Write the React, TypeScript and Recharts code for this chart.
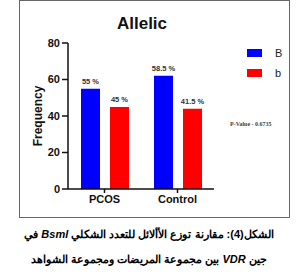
import { Bar, BarChart, LabelList, XAxis, YAxis } from "recharts";

const groups = ["PCOS", "Control"];
const bigB = [55, 62];
const smallB = [45, 44];
const bigBLabels = ["55 %", "58.5 %"];
const smallBLabels = ["45 %", "41.5 %"];
const yTicks = [0, 20, 40, 60, 80];
const pValue = "P-Value - 0.6735";

const data = groups.map((g, i) => ({ group: g, B: bigB[i], b: smallB[i] }));

const FONT = "'Liberation Sans', Arial, sans-serif";

function pctLabel(labels: string[]) {
  return (props: any) => {
    const { x, y, width, index } = props;
    return (
      <text
        x={Number(x) + Number(width) / 2}
        y={Number(y) - 5}
        textAnchor="middle"
        fontFamily={FONT}
        fontSize={7.5}
        fontWeight="bold"
        fill="#333"
      >
        {labels[index]}
      </text>
    );
  };
}

function LegendBox() {
  const items = [
    { name: "B", color: "#0000ff" },
    { name: "b", color: "#ff0000" },
  ];
  return (
    <svg width={50} height={40} style={{ position: "absolute", left: 247, top: 44 }}>
      {items.map((it, i) => (
        <g key={it.name}>
          <rect x={0} y={5 + i * 20} width={15} height={8} fill={it.color} />
          <text x={28} y={13 + i * 20} fontFamily={FONT} fontSize={11} fill="#222">
            {it.name}
          </text>
        </g>
      ))}
    </svg>
  );
}

export default function App() {
  return (
    <div style={{ position: "absolute", left: 0, top: 0, width: 300, height: 276, background: "#fff", fontFamily: FONT }}>
      <div
        style={{
          position: "absolute",
          left: 19,
          top: 0,
          width: 269,
          height: 216,
          border: "1px solid #666",
        }}
      />
      <div
        style={{
          position: "absolute",
          left: 0,
          top: 14,
          width: 284,
          textAlign: "center",
          fontSize: 17,
          fontWeight: "bold",
          color: "#111",
        }}
      >
        Allelic
      </div>
      <div style={{ position: "absolute", left: 0, top: 0 }}>
        <BarChart
          width={300}
          height={276}
          data={data}
          margin={{ top: 43, right: 86, bottom: 67, left: 36 }}
          barGap={10}
          barSize={19}
        >
          <XAxis
            dataKey="group"
            tickLine={{ stroke: "#111", strokeWidth: 1.5 }}
            axisLine={{ stroke: "#111", strokeWidth: 1.5 }}
            tickSize={4}
            height={20}
            tick={{ fill: "#111", fontSize: 11, fontWeight: "bold", fontFamily: FONT }}
          />
          <YAxis
            domain={[0, 80]}
            ticks={yTicks}
            width={32}
            tickSize={6}
            tickLine={{ stroke: "#111", strokeWidth: 1.5 }}
            axisLine={{ stroke: "#111", strokeWidth: 1.5 }}
            tick={{ fill: "#111", fontSize: 11, fontWeight: "bold", fontFamily: FONT }}
            label={(props: any) => {
              const vb = props.viewBox;
              const cx = vb.x + 2;
              const cy = vb.y + vb.height / 2;
              return (
                <text
                  x={cx}
                  y={cy}
                  transform={`rotate(-90, ${cx}, ${cy})`}
                  textAnchor="middle"
                  dominantBaseline="central"
                  fontFamily={FONT}
                  fontSize={12}
                  fontWeight="bold"
                  fill="#111"
                >
                  Frequency
                </text>
              );
            }}
          />
          <Bar dataKey="B" fill="#0000ff" isAnimationActive={false}>
            <LabelList dataKey="B" content={pctLabel(bigBLabels)} />
          </Bar>
          <Bar dataKey="b" fill="#ff0000" isAnimationActive={false}>
            <LabelList dataKey="b" content={pctLabel(smallBLabels)} />
          </Bar>
        </BarChart>
      </div>
      <LegendBox />
      <div
        style={{
          position: "absolute",
          left: 230,
          top: 121,
          fontSize: 6,
          color: "#444",
          whiteSpace: "nowrap",
          fontFamily: "'Liberation Serif', serif",
          fontWeight: "bold",
        }}
      >
        {pValue}
      </div>
      <div
        dir="rtl"
        style={{
          position: "absolute",
          left: 0,
          top: 222,
          width: 298,
          textAlign: "center",
          fontSize: 11,
          fontWeight: "bold",
          lineHeight: "25px",
          color: "#000",
          whiteSpace: "nowrap",
        }}
      >
        <div>
          الشكل(4): مقارنة توزع الأألائل للتعدد الشكلي <i>Bsml</i> في
        </div>
        <div>
          جين <i>VDR</i> بين مجموعة المريضات ومجموعة الشواهد
        </div>
      </div>
    </div>
  );
}
